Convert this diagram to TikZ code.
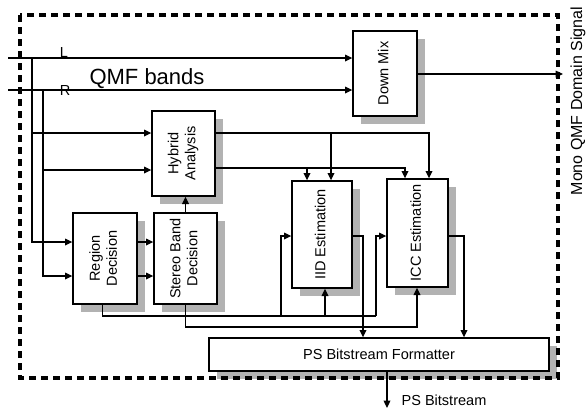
\documentclass[tikz,border=0pt]{standalone}
\usepackage{graphicx}
\usepackage{fontspec}
\setmainfont{Liberation Sans}
\usetikzlibrary{arrows.meta,shadows}

\tikzset{
  block/.style={draw=black,line width=1pt,fill=white,inner sep=0pt,font=\fontsize{10.9}{12.8}\selectfont,drop shadow={shadow xshift=6pt,shadow yshift=-6pt,fill=gray!60,opacity=1}},
  wire/.style={draw=black,line width=0.9pt},
  arrow/.style={draw=black,line width=0.9pt,-{Triangle[length=5.5pt,width=5pt]}},
  dashframe/.style={draw=black,line width=2.6pt,dash pattern=on 5.5pt off 3.5pt},
  txt/.style={inner sep=0pt,font=\fontsize{10.9}{12.8}\selectfont}
}

\newcommand{\vtext}[1]{\rotatebox{90}{\begin{tabular}{@{}c@{}}#1\end{tabular}}}

\begin{document}
\begin{tikzpicture}[x=0.75pt,y=-0.75pt]
    \useasboundingbox (0,0) rectangle (586,412);

    \coordinate (downmix) at (385,73.5);
    \coordinate (hybrid) at (183.5,153.5);
    \coordinate (region) at (105,258.5);
    \coordinate (stereo) at (185.5,258.5);
    \coordinate (iid) at (322,234.5);
    \coordinate (icc) at (417.5,233);
    \coordinate (psbf) at (379,354.5);

    \node [block,minimum width=48pt,minimum height=63.75pt] (downmix) at (downmix) {\vtext{Down Mix}};
    \node [block,minimum width=47.25pt,minimum height=63.75pt] (hybrid) at (hybrid) {\vtext{Hybrid\\Analysis}};
    \node [block,minimum width=48pt,minimum height=68.25pt] (region) at (region) {\vtext{Region\\Decision}};
    \node [block,minimum width=47.25pt,minimum height=68.25pt] (stereo) at (stereo) {\vtext{Stereo Band\\Decision}};
    \node [block,minimum width=45pt,minimum height=80.25pt] (iid) at (iid) {\vtext{IID Estimation}};
    \node [block,minimum width=45.75pt,minimum height=81pt] (icc) at (icc) {\vtext{ICC Estimation}};
    \node [block,minimum width=255pt,minimum height=24.75pt] (psbf) at (psbf) {PS Bitstream Formatter};

    % texts
    \node [txt] (lname) at (64,52) {L};
    \node [txt] (rname) at (65,90.5) {R};
    \node [txt,font=\fontsize{16.5}{18}\selectfont] (qmf) at (147,79) {QMF bands};
    \node [txt,font=\fontsize{12}{14}\selectfont,rotate=90] (mono) at (578,101) {Mono QMF Domain Signal};
    \node [txt] (psbit) at (444,400) {PS Bitstream};

    % junctions
    \coordinate (Lin) at (8,58);
    \coordinate (Rin) at (8,90);
    \coordinate (Ltap) at (32,58);
    \coordinate (Rtap) at (43,90);
    \coordinate (hyA) at (32,133);
    \coordinate (hyB) at (43,170);
    \coordinate (rgA) at (32,242);
    \coordinate (rgB) at (43,276);
    \coordinate (iidA) at (307,168);
    \coordinate (iidB) at (331,133);
    \coordinate (iccA) at (405,168);
    \coordinate (iccB) at (429,133);
    \coordinate (side) at (0,236);
    \coordinate (busA) at (281,316);
    \coordinate (busB) at (325,316);
    \coordinate (busC) at (376,316);
    \coordinate (busD) at (417,327);
    \coordinate (iidout) at (363,236);
    \coordinate (iccout) at (464,236);
    \coordinate (monoout) at (563,74);
    \coordinate (psout) at (387,408);

    \draw [arrow] (Lin) -- (downmix.west |- Lin);
    \draw [arrow] (Rin) -- (downmix.west |- Rin);
    \draw [arrow] (hyA) -- (hybrid.west |- hyA);
    \draw [arrow] (hyB) -- (hybrid.west |- hyB);
    \draw [arrow] (Ltap) |- (region.west |- rgA);
    \draw [arrow] (Rtap) |- (region.west |- rgB);
    \draw [arrow] (region.east |- rgA) -- (stereo.west |- rgA);
    \draw [arrow] (region.east |- rgB) -- (stereo.west |- rgB);
    \draw [arrow] (stereo.north) -- (hybrid.south -| stereo.north);

    \draw [arrow] (hybrid.east |- iccB) -| (icc.north -| iccB);
    \draw [arrow] (iidB) -- (iid.north -| iidB);
    \draw [arrow] (hybrid.east |- iccA) -| (icc.north -| iccA);
    \draw [arrow] (iidA) -- (iid.north -| iidA);

    \draw [wire] ([xshift=-2pt]region.south) |- (busC);
    \draw [arrow] (busA) |- (iid.west |- side);
    \draw [arrow] (busB) -- (iid.south -| busB);
    \draw [arrow] (busC) |- (icc.west |- side);
    \draw [arrow] (stereo.south) |- (busD) -- (icc.south -| busD);

    \draw [arrow] (iid.east |- iidout) -| (psbf.north -| iidout);
    \draw [arrow] (icc.east |- iccout) -| (psbf.north -| iccout);
    \draw [arrow] (downmix.east |- monoout) -- (monoout);
    \draw [arrow] (psbf.south -| psout) -- (psout);

    \draw [dashframe] (20,15) rectangle (558,378);
\end{tikzpicture}
\end{document}
